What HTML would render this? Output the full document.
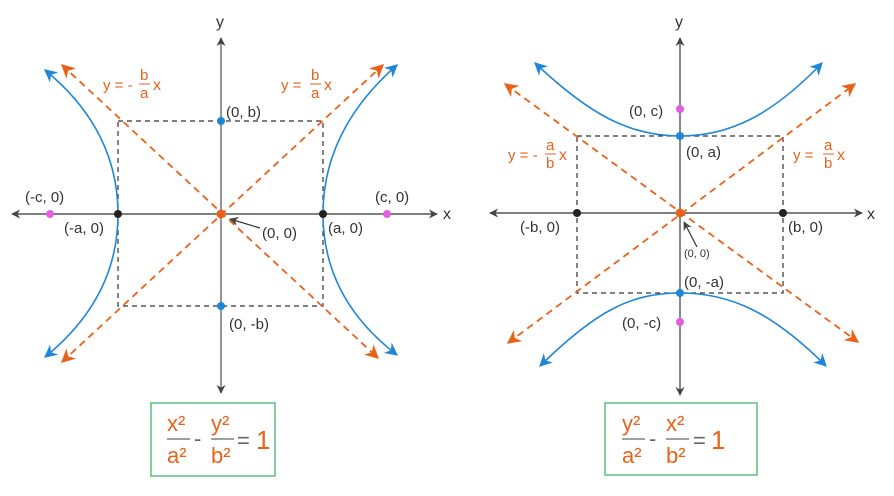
<!DOCTYPE html>
<html><head><meta charset="utf-8"><style>
html,body{margin:0;padding:0;background:#fff;}
svg{display:block;font-family:"Liberation Sans",sans-serif;}
.lab{font-size:14px;fill:#333;}
.or{fill:#e8621a;}
</style></head><body>
<svg width="894" height="496" viewBox="0 0 894 496" xmlns="http://www.w3.org/2000/svg">
<defs>
<marker id="ag" viewBox="0 0 10 10" refX="9" refY="5" markerWidth="9" markerHeight="9" orient="auto-start-reverse" markerUnits="userSpaceOnUse"><path d="M0,0 L10,5 L0,10 L3,5z" fill="#444"/></marker>
<marker id="ao" viewBox="0 0 10 10" refX="9" refY="5" markerWidth="14" markerHeight="14" orient="auto-start-reverse" markerUnits="userSpaceOnUse"><path d="M0,0 L10,5 L0,10 L3,5z" fill="#e8621a"/></marker>
<marker id="ab" viewBox="0 0 10 10" refX="9" refY="5" markerWidth="13" markerHeight="13" orient="auto-start-reverse" markerUnits="userSpaceOnUse"><path d="M0,0 L10,5 L0,10 L3,5z" fill="#1f86d8"/></marker>
</defs>

<!-- LEFT GRAPH -->
<g>
<line x1="12" y1="214" x2="437" y2="214" stroke="#555" stroke-width="1.4" marker-start="url(#ag)" marker-end="url(#ag)"/>
<line x1="221" y1="393" x2="221" y2="38" stroke="#666" stroke-width="1.4" marker-start="url(#ag)" marker-end="url(#ag)"/>
<rect x="118" y="121" width="205" height="185" fill="none" stroke="#333" stroke-width="1.2" stroke-dasharray="5,4"/>
<g stroke="#e8621a" stroke-width="1.8" stroke-dasharray="7,5" fill="none">
<line x1="62" y1="65" x2="378" y2="358" marker-start="url(#ao)" marker-end="url(#ao)"/>
<line x1="62" y1="362" x2="383" y2="65" marker-start="url(#ao)" marker-end="url(#ao)"/>
</g>
<g stroke="#1f86d8" stroke-width="1.6" fill="none">
<path d="M397,65 Q323,130 323,214 Q323,298 397,355" marker-start="url(#ab)" marker-end="url(#ab)"/>
<path d="M45,70 Q118,130 118,214 Q118,298 45,357" marker-start="url(#ab)" marker-end="url(#ab)"/>
</g>
<circle cx="118" cy="214" r="4" fill="#222"/>
<circle cx="323" cy="214" r="4" fill="#222"/>
<circle cx="50" cy="214" r="4" fill="#e35de0"/>
<circle cx="387" cy="214" r="4" fill="#e35de0"/>
<circle cx="221" cy="121" r="4" fill="#1f86d8"/>
<circle cx="221" cy="306" r="4" fill="#1f86d8"/>
<circle cx="221" cy="214" r="4.5" fill="#e8621a"/>
<line x1="260" y1="228" x2="230" y2="219" stroke="#333" stroke-width="1.2" marker-end="url(#ag)"/>
<text x="216" y="27" class="lab" style="font-size:16px">y</text>
<text x="443" y="219" class="lab" style="font-size:16px">x</text>
<text x="226" y="117" class="lab" style="font-size:15px">(0, b)</text>
<text x="229" y="329" class="lab" style="font-size:15px">(0, -b)</text>
<text x="25" y="202" class="lab" style="font-size:15px">(-c, 0)</text>
<text x="375" y="202" class="lab" style="font-size:15px">(c, 0)</text>
<text x="64" y="233" class="lab" style="font-size:15px">(-a, 0)</text>
<text x="328" y="233" class="lab" style="font-size:15px">(a, 0)</text>
<text x="262" y="238" class="lab" style="font-size:15px">(0, 0)</text>
<text x="103" y="90" class="or" style="font-size:15px">y = -</text><text x="140" y="80" class="or" style="font-size:15px">b</text><line x1="139" y1="84" x2="150" y2="84" stroke="#e8621a"/><text x="140" y="98" class="or" style="font-size:15px">a</text><text x="153" y="90" class="or" style="font-size:16px">x</text>
<text x="281" y="90" class="or" style="font-size:15px">y =</text><text x="311" y="80" class="or" style="font-size:15px">b</text><line x1="310" y1="84" x2="321" y2="84" stroke="#e8621a"/><text x="311" y="98" class="or" style="font-size:15px">a</text><text x="324" y="90" class="or" style="font-size:16px">x</text>
</g>

<!-- RIGHT GRAPH -->
<g>
<line x1="490" y1="213" x2="862" y2="213" stroke="#555" stroke-width="1.4" marker-start="url(#ag)" marker-end="url(#ag)"/>
<line x1="680" y1="395" x2="680" y2="38" stroke="#555" stroke-width="1.4" marker-start="url(#ag)" marker-end="url(#ag)"/>
<rect x="577" y="136" width="206" height="157" fill="none" stroke="#333" stroke-width="1.2" stroke-dasharray="5,4"/>
<g stroke="#e8621a" stroke-width="1.8" stroke-dasharray="7,5" fill="none">
<line x1="505" y1="84" x2="858" y2="342" marker-start="url(#ao)" marker-end="url(#ao)"/>
<line x1="508" y1="343" x2="855" y2="84" marker-start="url(#ao)" marker-end="url(#ao)"/>
</g>
<g stroke="#1f86d8" stroke-width="1.6" fill="none">
<path d="M535,63 C590,115 630,136 680,136 C730,136 772,115 822,63" marker-start="url(#ab)" marker-end="url(#ab)"/>
<path d="M540,366 C595,312 630,293 680,293 C730,293 772,312 826,366" marker-start="url(#ab)" marker-end="url(#ab)"/>
</g>
<circle cx="577" cy="213" r="4" fill="#222"/>
<circle cx="783" cy="213" r="4" fill="#222"/>
<circle cx="680" cy="109" r="4" fill="#e35de0"/>
<circle cx="680" cy="322" r="4" fill="#e35de0"/>
<circle cx="680" cy="136" r="4" fill="#1f86d8"/>
<circle cx="680" cy="293" r="4" fill="#1f86d8"/>
<circle cx="680" cy="213" r="4.5" fill="#e8621a"/>
<line x1="697" y1="247" x2="684" y2="222" stroke="#333" stroke-width="1.2" marker-end="url(#ag)"/>
<text x="675" y="27" class="lab" style="font-size:16px">y</text>
<text x="867" y="219" class="lab" style="font-size:16px">x</text>
<text x="629" y="116" class="lab" style="font-size:15px">(0, c)</text>
<text x="686" y="157" class="lab" style="font-size:15px">(0, a)</text>
<text x="684" y="287" class="lab" style="font-size:15px">(0, -a)</text>
<text x="622" y="328" class="lab" style="font-size:15px">(0, -c)</text>
<text x="520" y="232" class="lab" style="font-size:15px">(-b, 0)</text>
<text x="788" y="232" class="lab" style="font-size:15px">(b, 0)</text>
<text x="684" y="257" class="lab" style="font-size:11px">(0, 0)</text>
<text x="508" y="160" class="or" style="font-size:15px">y = -</text><text x="546" y="150" class="or" style="font-size:15px">a</text><line x1="545" y1="154" x2="556" y2="154" stroke="#e8621a"/><text x="546" y="168" class="or" style="font-size:15px">b</text><text x="559" y="160" class="or" style="font-size:16px">x</text>
<text x="793" y="160" class="or" style="font-size:15px">y =</text><text x="824" y="150" class="or" style="font-size:15px">a</text><line x1="823" y1="154" x2="834" y2="154" stroke="#e8621a"/><text x="824" y="168" class="or" style="font-size:15px">b</text><text x="837" y="160" class="or" style="font-size:16px">x</text>
</g>

<!-- EQUATION BOXES -->
<rect x="151" y="403" width="124" height="73" fill="none" stroke="#5bbf7a" stroke-width="1.5"/>
<text x="167" y="431" class="or" style="font-size:22px">x²</text>
<line x1="167" y1="439" x2="190" y2="439" stroke="#666" stroke-width="1.3"/>
<text x="167" y="463" class="or" style="font-size:22px">a²</text>
<text x="194" y="446" fill="#666" style="font-size:22px">-</text>
<text x="211" y="431" class="or" style="font-size:22px">y²</text>
<line x1="211" y1="439" x2="234" y2="439" stroke="#666" stroke-width="1.3"/>
<text x="211" y="463" class="or" style="font-size:22px">b²</text>
<text x="237" y="448" fill="#666" style="font-size:22px">=</text>
<text x="256" y="449" class="or" style="font-size:26px">1</text>

<rect x="605" y="403" width="152" height="72" fill="none" stroke="#5bbf7a" stroke-width="1.5"/>
<text x="622" y="431" class="or" style="font-size:22px">y²</text>
<line x1="622" y1="439" x2="645" y2="439" stroke="#666" stroke-width="1.3"/>
<text x="622" y="463" class="or" style="font-size:22px">a²</text>
<text x="649" y="446" fill="#666" style="font-size:22px">-</text>
<text x="666" y="431" class="or" style="font-size:22px">x²</text>
<line x1="666" y1="439" x2="689" y2="439" stroke="#666" stroke-width="1.3"/>
<text x="666" y="463" class="or" style="font-size:22px">b²</text>
<text x="693" y="448" fill="#666" style="font-size:22px">=</text>
<text x="711" y="449" class="or" style="font-size:26px">1</text>
</svg>
</body></html>
